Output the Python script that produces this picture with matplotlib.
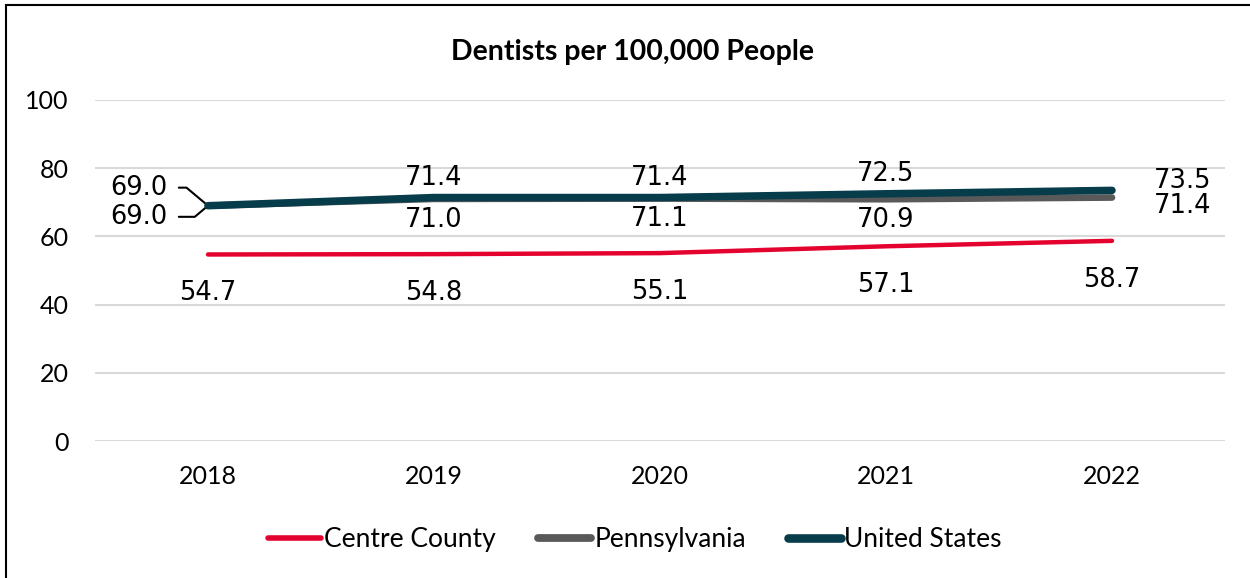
import matplotlib
matplotlib.use("Agg")
import matplotlib.pyplot as plt
from matplotlib.patches import Rectangle

years = ["2018", "2019", "2020", "2021", "2022"]
centre_county = [54.7, 54.8, 55.1, 57.1, 58.7]
pennsylvania = [69.0, 71.0, 71.1, 70.9, 71.4]
united_states = [69.0, 71.4, 71.4, 72.5, 73.5]
y_ticks = [0, 20, 40, 60, 80, 100]

plt.rcParams["font.family"] = ["Lato", "DejaVu Sans"]
LABEL_FONT = "DejaVu Sans"
LABEL_SIZE = 18.5

fig = plt.figure(figsize=(12.5, 5.78), dpi=100)
ax = fig.add_axes([0.076, 0.237, 0.904, 0.590])

x = list(range(len(years)))
ax.plot(x, centre_county, color="#E4032E", lw=3.2, solid_capstyle="round", label="Centre County", zorder=3)
ax.plot(x, pennsylvania, color="#595959", lw=4.8, solid_capstyle="round", label="Pennsylvania", zorder=4)
ax.plot(x, united_states, color="#073C4A", lw=5.4, solid_capstyle="round", label="United States", zorder=5)

ax.set_xlim(-0.5, len(years) - 0.5)
ax.set_ylim(0, 100)
ax.set_yticks(y_ticks)
ax.set_xticks(x)
ax.set_xticklabels(years)
for s in ax.spines.values():
    s.set_visible(False)
ax.grid(axis="y", color="#D9D9D9", lw=1.5)
ax.set_axisbelow(True)
ax.tick_params(axis="both", length=0, labelsize=18, colors="black")
ax.tick_params(axis="y", pad=19)
ax.tick_params(axis="x", pad=17)

lab = dict(fontsize=LABEL_SIZE, family=LABEL_FONT, ha="center", va="center", textcoords="offset points")
for i in range(len(years)):
    ax.annotate(f"{centre_county[i]:.1f}", (i, centre_county[i]), xytext=(0, -28), **lab)
for i in range(1, len(years) - 1):
    ax.annotate(f"{united_states[i]:.1f}", (i, united_states[i]), xytext=(0, 14), **lab)
    ax.annotate(f"{pennsylvania[i]:.1f}", (i, pennsylvania[i]), xytext=(0, -15), **lab)

# last point labels to the right
last = len(years) - 1
ax.annotate(f"{united_states[last]:.1f}", (last, united_states[last]), xytext=(51, 7), **lab)
ax.annotate(f"{pennsylvania[last]:.1f}", (last, pennsylvania[last]), xytext=(51, -6), **lab)

# first point labels with leader lines
lead = dict(arrowstyle="-", color="black", lw=1.5, shrinkA=6, shrinkB=0,
            connectionstyle="angle,angleA=0,angleB=-40,rad=0", relpos=(1, 0.5))
ax.annotate(f"{united_states[0]:.1f}", (0, united_states[0]), xytext=(-29, 13),
            textcoords="offset points", fontsize=LABEL_SIZE, family=LABEL_FONT,
            ha="right", va="center", arrowprops=lead)
lead2 = dict(lead, connectionstyle="angle,angleA=0,angleB=40,rad=0")
ax.annotate(f"{pennsylvania[0]:.1f}", (0, pennsylvania[0]), xytext=(-29, -8),
            textcoords="offset points", fontsize=LABEL_SIZE, family=LABEL_FONT,
            ha="right", va="center", arrowprops=lead2)

fig.text(0.506, 0.91, "Dentists per 100,000 People", ha="center", va="center",
         fontsize=20.5, fontweight="bold")

fig.legend(loc="center", bbox_to_anchor=(0.508, 0.067), ncol=3, frameon=False,
           fontsize=19, handlelength=2.0, handletextpad=0.12, columnspacing=1.6)
for line in fig.legends[0].get_lines():
    line.set_linewidth(line.get_linewidth() + 0.8)

fig.patches.append(Rectangle((6 / 1250, -0.1), 1.2, 1.1 - 5 / 578,
                             transform=fig.transFigure, fill=False, ec="black", lw=1.5))

fig.savefig("out.png", dpi=100)
